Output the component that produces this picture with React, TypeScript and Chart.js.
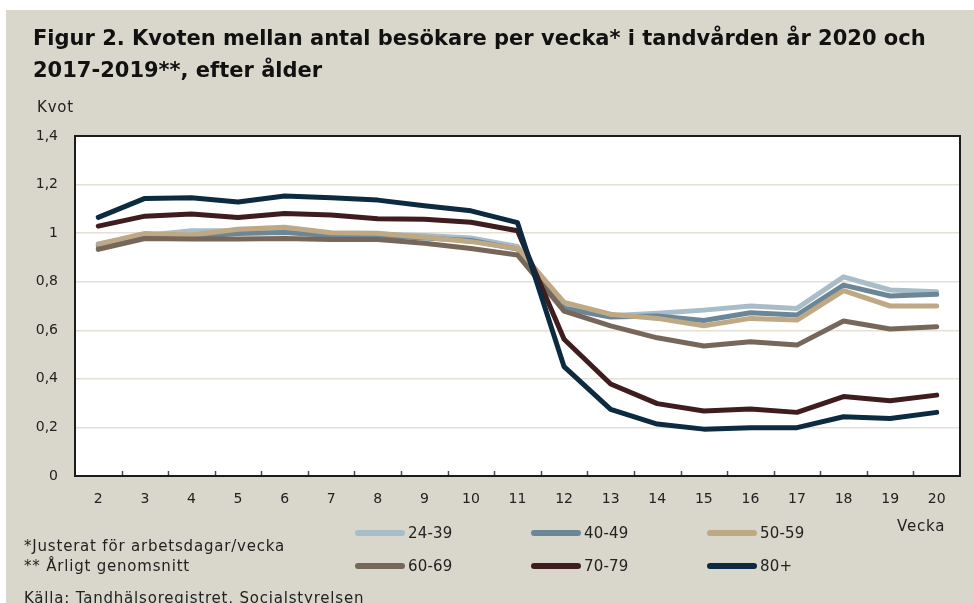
import React, { useEffect, useRef } from 'react';
import { Chart, registerables } from 'chart.js';

Chart.register(...registerables);

const weeks = ['2', '3', '4', '5', '6', '7', '8', '9', '10', '11', '12', '13', '14', '15', '16', '17', '18', '19', '20'];

const ageGroups = ['24-39', '40-49', '50-59', '60-69', '70-79', '80+'];
const groupColors = ['#a8bdc8', '#6b8797', '#bea984', '#76675a', '#3f1d1f', '#0c2b40'];

const s2439 = [0.955, 0.99, 1.01, 1.01, 1.01, 0.995, 0.995, 0.99, 0.98, 0.945, 0.70, 0.66, 0.67, 0.683, 0.70, 0.69, 0.82, 0.766, 0.759];
const s4049 = [0.945, 0.985, 0.985, 0.999, 1.003, 0.99, 0.99, 0.98, 0.97, 0.935, 0.69, 0.655, 0.659, 0.64, 0.672, 0.663, 0.786, 0.741, 0.748];
const s5059 = [0.955, 0.999, 0.992, 1.016, 1.024, 1.002, 1.0, 0.983, 0.965, 0.937, 0.715, 0.666, 0.649, 0.619, 0.649, 0.642, 0.763, 0.70, 0.70];
const s6069 = [0.933, 0.978, 0.976, 0.976, 0.978, 0.974, 0.974, 0.958, 0.937, 0.91, 0.679, 0.618, 0.569, 0.535, 0.553, 0.539, 0.638, 0.605, 0.615];
const s7079 = [1.029, 1.07, 1.079, 1.064, 1.081, 1.075, 1.059, 1.057, 1.045, 1.01, 0.563, 0.379, 0.298, 0.268, 0.276, 0.262, 0.327, 0.31, 0.333];
const s80 = [1.065, 1.143, 1.146, 1.128, 1.153, 1.146, 1.136, 1.113, 1.092, 1.043, 0.45, 0.274, 0.214, 0.193, 0.199, 0.199, 0.244, 0.237, 0.262];

const seriesValues = [s2439, s4049, s5059, s6069, s7079, s80];

const yTicks = [0, 0.2, 0.4, 0.6, 0.8, 1, 1.2, 1.4];
const yTickLabels = ['0', '0,2', '0,4', '0,6', '0,8', '1', '1,2', '1,4'];

const titleLines = [
  'Figur 2. Kvoten mellan antal besökare per vecka* i tandvården år 2020 och',
  '2017-2019**, efter ålder',
];
const footnotes = ['*Justerat för arbetsdagar/vecka', '** Årligt genomsnitt'];
const sourceText = 'Källa: Tandhälsoregistret, Socialstyrelsen';

const FONT = '"DejaVu Sans", sans-serif';
const BEIGE = '#d9d7cb';
const TEXT = '#222222';

const bgPlugin = {
  id: 'bgPlugin',
  beforeDraw(chart: any) {
    const { ctx, width, height, chartArea } = chart;
    ctx.save();
    ctx.fillStyle = '#ffffff';
    ctx.fillRect(0, 0, width, height);
    ctx.fillStyle = BEIGE;
    ctx.fillRect(6, 10, width - 6, height - 10);
    ctx.fillStyle = '#ffffff';
    ctx.fillRect(chartArea.left, chartArea.top, chartArea.right - chartArea.left, chartArea.bottom - chartArea.top);
    ctx.restore();
  },
  afterDraw(chart: any) {
    const { ctx, chartArea } = chart;
    const xs = chart.scales.x;
    ctx.save();
    ctx.strokeStyle = '#4a4a4a';
    ctx.lineWidth = 1.5;
    for (let i = 0; i < weeks.length - 1; i++) {
      const px = Math.round((xs.getPixelForTick(i) + xs.getPixelForTick(i + 1)) / 2) + 0.5;
      ctx.beginPath();
      ctx.moveTo(px, chartArea.bottom);
      ctx.lineTo(px, chartArea.bottom - 5);
      ctx.stroke();
    }
    ctx.strokeStyle = '#1c1c1c';
    ctx.lineWidth = 2;
    ctx.strokeRect(chartArea.left, chartArea.top, chartArea.right - chartArea.left, chartArea.bottom - chartArea.top);
    ctx.restore();
  },
};

function App() {
  const canvasRef = useRef<HTMLCanvasElement | null>(null);

  useEffect(() => {
    const canvas = canvasRef.current;
    if (!canvas) return;
    const chart = new Chart(canvas, {
      type: 'line',
      data: {
        labels: weeks,
        datasets: ageGroups.map((g, i) => ({
          label: g,
          data: seriesValues[i],
          borderColor: groupColors[i],
          backgroundColor: groupColors[i],
          borderWidth: 5,
          pointRadius: 0,
          tension: 0,
          fill: false,
          borderCapStyle: 'round' as const,
          borderJoinStyle: 'round' as const,
          order: ageGroups.length - i,
        })),
      },
      options: {
        responsive: false,
        animation: false,
        devicePixelRatio: 1,
        layout: { padding: { left: 0, top: 136, right: 14, bottom: 97 } },
        plugins: {
          legend: { display: false },
          tooltip: { enabled: false },
          title: { display: false },
        },
        scales: {
          x: {
            type: 'category',
            offset: true,
            grid: { display: false },
            border: { display: false },
            ticks: {
              color: TEXT,
              font: { family: FONT, size: 14 },
              padding: 7,
              maxRotation: 0,
              autoSkip: false,
            },
            afterFit: (s: any) => {
              s.height = 30;
            },
          },
          y: {
            min: 0,
            max: 1.4,
            afterBuildTicks: (s: any) => {
              s.ticks = yTicks.map((v) => ({ value: v }));
            },
            grid: { color: '#e3e0d5', lineWidth: 1.5, drawTicks: false },
            border: { display: false },
            ticks: {
              color: TEXT,
              font: { family: FONT, size: 14 },
              padding: 17,
              callback: (_v: any, idx: number) => yTickLabels[idx],
            },
            afterFit: (s: any) => {
              s.width = 75;
            },
          },
        },
      },
      plugins: [bgPlugin],
    });
    return () => chart.destroy();
  }, []);

  const legendX = [355, 531, 707];
  const legendY = [533, 566];

  const textStyle = (left: number, cy: number, size = 15): React.CSSProperties => ({
    position: 'absolute',
    left,
    top: cy - 10,
    lineHeight: '20px',
    height: 20,
    fontFamily: FONT,
    fontSize: size,
    letterSpacing: '0.8px',
    color: TEXT,
    whiteSpace: 'nowrap',
  });

  return (
    <div style={{ position: 'fixed', left: 0, top: 0, width: 974, height: 603, overflow: 'hidden', background: '#fff' }}>
      <canvas ref={canvasRef} width={974} height={603} style={{ position: 'absolute', left: 0, top: 0, width: 974, height: 603 }} />
      {titleLines.map((t, i) => (
        <div
          key={t}
          style={{
            position: 'absolute',
            left: 33,
            top: 38 - 16 + i * 32,
            lineHeight: '32px',
            fontFamily: FONT,
            fontWeight: 'bold',
            fontSize: 21,
            color: '#111',
            whiteSpace: 'nowrap',
          }}
        >
          {t}
        </div>
      ))}
      <div style={textStyle(37, 107)}>Kvot</div>
      <div style={textStyle(897, 526)}>Vecka</div>
      {footnotes.map((f, i) => (
        <div key={f} style={textStyle(24, 546 + i * 20)}>
          {f}
        </div>
      ))}
      <div style={textStyle(24, 598)}>{sourceText}</div>
      {ageGroups.map((g, i) => {
        const col = i % 3;
        const row = Math.floor(i / 3);
        const lx = legendX[col];
        const ly = legendY[row];
        return (
          <React.Fragment key={g}>
            <div
              style={{
                position: 'absolute',
                left: lx,
                top: ly - 3,
                width: 50,
                height: 6,
                borderRadius: 3,
                background: groupColors[i],
              }}
            />
            <div style={{ ...textStyle(lx + 53, ly), letterSpacing: '0.2px' }}>{g}</div>
          </React.Fragment>
        );
      })}
    </div>
  );
}

export default App;
